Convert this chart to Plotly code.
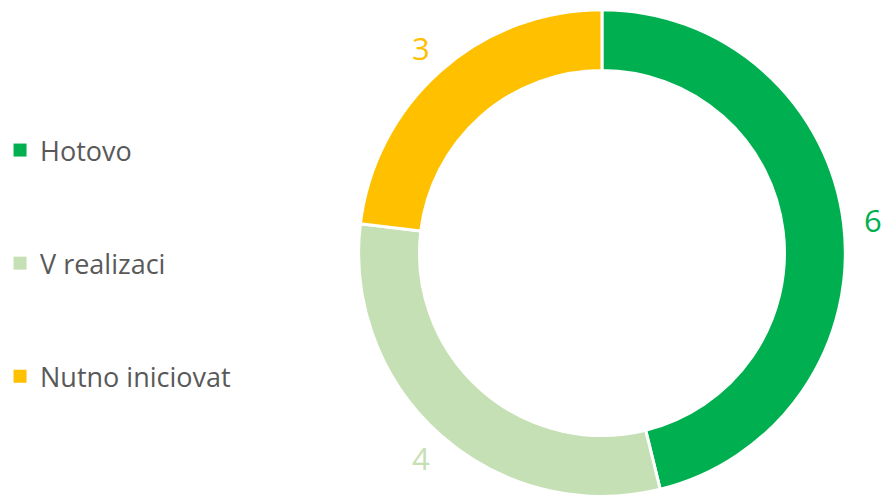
import math
import plotly.graph_objects as go

labels = ["Hotovo", "V realizaci", "Nutno iniciovat"]
values = [6, 4, 3]
colors = ["#00B050", "#C5E0B4", "#FFC000"]

W, H = 895, 499
cx, cy, R = 600, 253, 245  # pixel geometry of the donut

dom_x = [(cx - R) / W, (cx + R) / W]
dom_y = [1 - (cy + R) / H, 1 - (cy - R) / H]

fig = go.Figure()
fig.add_trace(go.Pie(
    labels=labels, values=values, sort=False, direction="clockwise",
    rotation=0, hole=0.75, textinfo="none", hoverinfo="label+value",
    marker=dict(colors=colors, line=dict(color="white", width=3)),
    domain=dict(x=dom_x, y=dom_y), showlegend=False,
))

# legend entries
for lab, col in zip(labels, colors):
    fig.add_trace(go.Scatter(
        x=[None], y=[None], mode="markers", name=lab, legendgroup=lab,
        marker=dict(symbol="square", size=13, color=col),
    ))

# value labels outside the ring
total = sum(values)
cum = 0
for v, col in zip(values, colors):
    mid = (cum + v / 2) / total * 2 * math.pi
    cum += v
    r = R * 1.12
    px = cx + r * math.sin(mid)
    py = cy - r * math.cos(mid)
    fig.add_annotation(
        x=px / W, y=1 - py / H, xref="paper", yref="paper",
        text=str(v), showarrow=False,
        font=dict(family="Open Sans", size=31, color=col),
        xanchor="center", yanchor="middle",
    )

fig.update_layout(
    width=W, height=H, margin=dict(l=0, r=0, t=0, b=0),
    paper_bgcolor="white", plot_bgcolor="white",
    xaxis=dict(visible=False), yaxis=dict(visible=False),
    legend=dict(
        x=-6 / W, y=1 - 126 / H, xanchor="left", yanchor="top",
        font=dict(family="Open Sans", size=27, color="#595959"),
        tracegroupgap=75, bgcolor="rgba(0,0,0,0)",
    ),
)

fig.write_html("out.html")
